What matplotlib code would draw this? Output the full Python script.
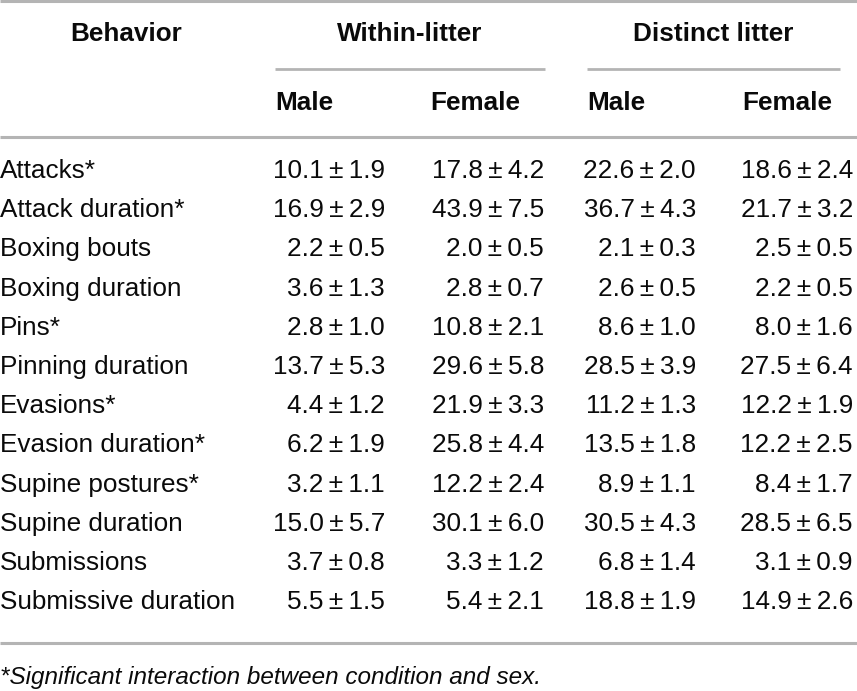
import matplotlib
matplotlib.use("Agg")
import matplotlib.pyplot as plt

# table content
behaviors = ["Attacks*", "Attack duration*", "Boxing bouts", "Boxing duration",
             "Pins*", "Pinning duration", "Evasions*", "Evasion duration*",
             "Supine postures*", "Supine duration", "Submissions",
             "Submissive duration"]

within_male_mean = [10.1, 16.9, 2.2, 3.6, 2.8, 13.7, 4.4, 6.2, 3.2, 15.0, 3.7, 5.5]
within_male_se = [1.9, 2.9, 0.5, 1.3, 1.0, 5.3, 1.2, 1.9, 1.1, 5.7, 0.8, 1.5]
within_female_mean = [17.8, 43.9, 2.0, 2.8, 10.8, 29.6, 21.9, 25.8, 12.2, 30.1, 3.3, 5.4]
within_female_se = [4.2, 7.5, 0.5, 0.7, 2.1, 5.8, 3.3, 4.4, 2.4, 6.0, 1.2, 2.1]
distinct_male_mean = [22.6, 36.7, 2.1, 2.6, 8.6, 28.5, 11.2, 13.5, 8.9, 30.5, 6.8, 18.8]
distinct_male_se = [2.0, 4.3, 0.3, 0.5, 1.0, 3.9, 1.3, 1.8, 1.1, 4.3, 1.4, 1.9]
distinct_female_mean = [18.6, 21.7, 2.5, 2.2, 8.0, 27.5, 12.2, 12.2, 8.4, 28.5, 3.1, 14.9]
distinct_female_se = [2.4, 3.2, 0.5, 0.5, 1.6, 6.4, 1.9, 2.5, 1.7, 6.5, 0.9, 2.6]

group_labels = ["Within-litter", "Distinct litter"]
sex_labels = ["Male", "Female"]
footnote = "*Significant interaction between condition and sex."

plt.rcParams['font.family'] = ['Liberation Sans', 'DejaVu Sans']

W, H = 857, 691
fig = plt.figure(figsize=(W / 100, H / 100), dpi=100)
ax = fig.add_axes([0, 0, 1, 1])
ax.set_xlim(0, W)
ax.set_ylim(H, 0)
ax.axis("off")

txt = "#0a0a0a"
rule = "#b4b4b4"
fs = 18.8

# rules
ax.plot([0, W], [1, 1], color=rule, lw=2.2, solid_capstyle="butt")
ax.plot([275, 545], [69, 69], color=rule, lw=2.0, solid_capstyle="butt")
ax.plot([587, 840], [69, 69], color=rule, lw=2.0, solid_capstyle="butt")
ax.plot([0, W], [137, 137], color=rule, lw=2.2, solid_capstyle="butt")
ax.plot([0, W], [643, 643], color=rule, lw=2.2, solid_capstyle="butt")

# headers
ax.text(126, 41, "Behavior", fontsize=fs, fontweight="bold", color=txt,
        ha="center", va="baseline")
ax.text(410, 41, group_labels[0], fontsize=fs, fontweight="bold", color=txt,
        ha="center", va="baseline")
ax.text(713, 41, group_labels[1], fontsize=fs, fontweight="bold", color=txt,
        ha="center", va="baseline")
sex_x = [275, 430, 587, 742]
for i, x in enumerate(sex_x):
    ax.text(x, 110, sex_labels[i % 2], fontsize=fs, fontweight="bold",
            color=txt, ha="left", va="baseline")

# body
columns = [(within_male_mean, within_male_se, 385),
           (within_female_mean, within_female_se, 544),
           (distinct_male_mean, distinct_male_se, 696),
           (distinct_female_mean, distinct_female_se, 853)]
y0, dy = 178, 39.2
for i, name in enumerate(behaviors):
    y = y0 + i * dy
    ax.text(0, y, name, fontsize=fs, color=txt, ha="left", va="baseline")
    for means, ses, xr in columns:
        s = "{:.1f}\u2009\u00b1\u2009{:.1f}".format(means[i], ses[i])
        ax.text(xr, y, s, fontsize=fs, color=txt, ha="right", va="baseline")

ax.text(0, 684, footnote, fontsize=17.5, style="italic", color=txt,
        ha="left", va="baseline")

fig.savefig("out.png", dpi=100)
